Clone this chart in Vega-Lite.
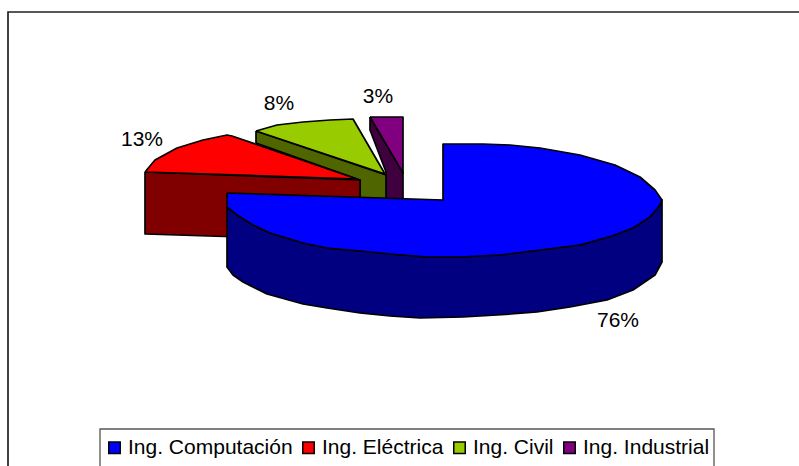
{
"$schema":"https://vega.github.io/schema/vega-lite/v6.json",
"width":799,"height":466,
"autosize":{"type":"fit","contains":"padding"},
"padding":0,
"background":"white",
"view":{"stroke":null},
"datasets":{
"marco":[{"x":8,"y":470,"o":1},{"x":8,"y":12,"o":2},{"x":805,"y":12,"o":3}],
"caja":[{"x":100,"y":470,"o":1},{"x":100,"y":429,"o":2},{"x":714,"y":429,"o":3},{"x":714,"y":470,"o":4}],
"lados":[
{"p":"Ing. Industrial","o":1,"x":370,"y":117},{"p":"Ing. Industrial","o":2,"x":403,"y":173},{"p":"Ing. Industrial","o":3,"x":403,"y":199},{"p":"Ing. Industrial","o":4,"x":386,"y":199},{"p":"Ing. Industrial","o":5,"x":386,"y":172},{"p":"Ing. Industrial","o":6,"x":370,"y":130},{"p":"Ing. Industrial","o":7,"x":370,"y":117},
{"p":"Ing. Civil","o":1,"x":256,"y":131},{"p":"Ing. Civil","o":2,"x":386,"y":175},{"p":"Ing. Civil","o":3,"x":386,"y":199},{"p":"Ing. Civil","o":4,"x":360,"y":199},{"p":"Ing. Civil","o":5,"x":360,"y":180},{"p":"Ing. Civil","o":6,"x":256,"y":143},{"p":"Ing. Civil","o":7,"x":256,"y":131},
{"p":"Ing. Eléctrica","o":1,"x":145,"y":172},{"p":"Ing. Eléctrica","o":2,"x":360,"y":180},{"p":"Ing. Eléctrica","o":3,"x":360,"y":205},{"p":"Ing. Eléctrica","o":4,"x":240,"y":237},{"p":"Ing. Eléctrica","o":5,"x":145,"y":234},{"p":"Ing. Eléctrica","o":6,"x":145,"y":172},
{"p":"Ing. Computación","o":1,"x":227,"y":207},{"p":"Ing. Computación","o":2,"x":237,"y":215},{"p":"Ing. Computación","o":3,"x":253,"y":225},{"p":"Ing. Computación","o":4,"x":270,"y":233},{"p":"Ing. Computación","o":5,"x":303,"y":243},{"p":"Ing. Computación","o":6,"x":327,"y":248},{"p":"Ing. Computación","o":7,"x":360,"y":251},{"p":"Ing. Computación","o":8,"x":390,"y":254},{"p":"Ing. Computación","o":9,"x":427,"y":257},{"p":"Ing. Computación","o":10,"x":460,"y":257},{"p":"Ing. Computación","o":11,"x":500,"y":255},{"p":"Ing. Computación","o":12,"x":540,"y":250},{"p":"Ing. Computación","o":13,"x":580,"y":245},{"p":"Ing. Computación","o":14,"x":612,"y":236},{"p":"Ing. Computación","o":15,"x":633,"y":228},{"p":"Ing. Computación","o":16,"x":650,"y":217},{"p":"Ing. Computación","o":17,"x":660,"y":205},{"p":"Ing. Computación","o":18,"x":662,"y":200},{"p":"Ing. Computación","o":19,"x":662,"y":262},{"p":"Ing. Computación","o":20,"x":655,"y":275},{"p":"Ing. Computación","o":21,"x":633,"y":290},{"p":"Ing. Computación","o":22,"x":607,"y":300},{"p":"Ing. Computación","o":23,"x":570,"y":307},{"p":"Ing. Computación","o":24,"x":537,"y":312},{"p":"Ing. Computación","o":25,"x":497,"y":315},{"p":"Ing. Computación","o":26,"x":463,"y":317},{"p":"Ing. Computación","o":27,"x":420,"y":318},{"p":"Ing. Computación","o":28,"x":390,"y":316},{"p":"Ing. Computación","o":29,"x":360,"y":313},{"p":"Ing. Computación","o":30,"x":327,"y":308},{"p":"Ing. Computación","o":31,"x":303,"y":304},{"p":"Ing. Computación","o":32,"x":267,"y":294},{"p":"Ing. Computación","o":33,"x":243,"y":282},{"p":"Ing. Computación","o":34,"x":233,"y":275},{"p":"Ing. Computación","o":35,"x":227,"y":267},{"p":"Ing. Computación","o":36,"x":227,"y":207}
],
"tapas":[
{"p":"Ing. Industrial","o":1,"x":370,"y":117},{"p":"Ing. Industrial","o":2,"x":403,"y":117},{"p":"Ing. Industrial","o":3,"x":403,"y":173},{"p":"Ing. Industrial","o":4,"x":370,"y":117},
{"p":"Ing. Civil","o":1,"x":256,"y":131},{"p":"Ing. Civil","o":2,"x":277,"y":125},{"p":"Ing. Civil","o":3,"x":303,"y":122},{"p":"Ing. Civil","o":4,"x":330,"y":120},{"p":"Ing. Civil","o":5,"x":353,"y":119},{"p":"Ing. Civil","o":6,"x":385,"y":174},{"p":"Ing. Civil","o":7,"x":256,"y":131},
{"p":"Ing. Eléctrica","o":1,"x":145,"y":172},{"p":"Ing. Eléctrica","o":2,"x":155,"y":160},{"p":"Ing. Eléctrica","o":3,"x":177,"y":148},{"p":"Ing. Eléctrica","o":4,"x":203,"y":140},{"p":"Ing. Eléctrica","o":5,"x":227,"y":135},{"p":"Ing. Eléctrica","o":6,"x":232,"y":136},{"p":"Ing. Eléctrica","o":7,"x":357,"y":179},{"p":"Ing. Eléctrica","o":8,"x":145,"y":172},
{"p":"Ing. Computación","o":1,"x":227,"y":193},{"p":"Ing. Computación","o":2,"x":443,"y":200},{"p":"Ing. Computación","o":3,"x":443,"y":144},{"p":"Ing. Computación","o":4,"x":483,"y":144},{"p":"Ing. Computación","o":5,"x":510,"y":145},{"p":"Ing. Computación","o":6,"x":540,"y":148},{"p":"Ing. Computación","o":7,"x":580,"y":155},{"p":"Ing. Computación","o":8,"x":615,"y":165},{"p":"Ing. Computación","o":9,"x":640,"y":177},{"p":"Ing. Computación","o":10,"x":655,"y":190},{"p":"Ing. Computación","o":11,"x":662,"y":200},{"p":"Ing. Computación","o":12,"x":660,"y":205},{"p":"Ing. Computación","o":13,"x":650,"y":217},{"p":"Ing. Computación","o":14,"x":633,"y":228},{"p":"Ing. Computación","o":15,"x":612,"y":236},{"p":"Ing. Computación","o":16,"x":580,"y":245},{"p":"Ing. Computación","o":17,"x":540,"y":250},{"p":"Ing. Computación","o":18,"x":500,"y":255},{"p":"Ing. Computación","o":19,"x":460,"y":257},{"p":"Ing. Computación","o":20,"x":427,"y":257},{"p":"Ing. Computación","o":21,"x":390,"y":254},{"p":"Ing. Computación","o":22,"x":360,"y":251},{"p":"Ing. Computación","o":23,"x":327,"y":248},{"p":"Ing. Computación","o":24,"x":303,"y":243},{"p":"Ing. Computación","o":25,"x":270,"y":233},{"p":"Ing. Computación","o":26,"x":253,"y":225},{"p":"Ing. Computación","o":27,"x":237,"y":215},{"p":"Ing. Computación","o":28,"x":227,"y":207},{"p":"Ing. Computación","o":29,"x":227,"y":193}
],
"etiquetas":[{"t":"76%","x":618,"y":321},{"t":"13%","x":142,"y":140},{"t":"8%","x":279,"y":104},{"t":"3%","x":378,"y":97}]
},
"encoding":{
"x":{"field":"x","type":"quantitative","scale":{"domain":[0,799],"nice":false,"zero":false},"axis":null},
"y":{"field":"y","type":"quantitative","scale":{"domain":[466,0],"nice":false,"zero":false},"axis":null}
},
"layer":[
{"data":{"name":"marco"},"mark":{"type":"line","stroke":"#222222","strokeWidth":1.7,"clip":true},"encoding":{"order":{"field":"o","type":"quantitative"}}},
{"data":{"name":"caja"},"mark":{"type":"line","stroke":"#555555","strokeWidth":1.3,"clip":true},"encoding":{"order":{"field":"o","type":"quantitative"}}},
{"data":{"name":"lados"},"mark":{"type":"line","stroke":"black","strokeWidth":1.7,"strokeJoin":"round","clip":true},
"encoding":{"order":{"field":"o","type":"quantitative"},"detail":{"field":"p"},
"fill":{"field":"p","type":"nominal","legend":null,"scale":{"domain":["Ing. Computación","Ing. Eléctrica","Ing. Civil","Ing. Industrial"],"range":["#000080","#800000","#4F6600","#400040"]}}}},
{"data":{"name":"tapas"},"mark":{"type":"line","stroke":"black","strokeWidth":1.7,"strokeJoin":"round","clip":true},
"encoding":{"order":{"field":"o","type":"quantitative"},"detail":{"field":"p"},
"fill":{"field":"p","type":"nominal","scale":{"domain":["Ing. Computación","Ing. Eléctrica","Ing. Civil","Ing. Industrial"],"range":["#0000FF","#FF0000","#99CC00","#800080"]},
"legend":{"title":null,"orient":"none","legendX":104,"legendY":437,"direction":"horizontal","columns":4,"symbolType":"square","symbolSize":132,"symbolStrokeColor":"black","symbolStrokeWidth":1.5,"symbolOpacity":1,"labelFont":"Liberation Sans","labelFontSize":21,"labelColor":"black","labelOffset":3,"columnPadding":5,"padding":0,"labelLimit":300,"encoding":{"symbols":{"stroke":"black","strokeWidth":1.5}}}}}},
{"data":{"name":"etiquetas"},"mark":{"type":"text","font":"Liberation Sans","fontSize":21,"color":"black"},"encoding":{"text":{"field":"t"}}}
],
"resolve":{"scale":{"fill":"independent"}}
}
